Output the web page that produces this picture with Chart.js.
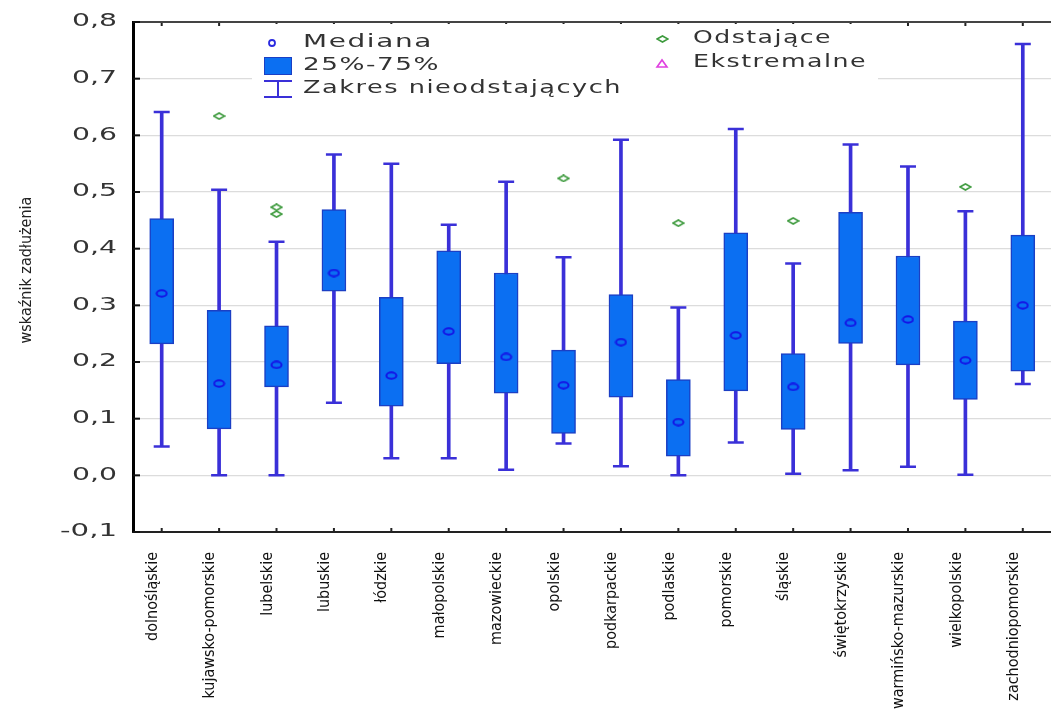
<!DOCTYPE html>
<html>
<head>
<meta charset="utf-8">
<script src="https://cdn.jsdelivr.net/npm/chart.js@4/dist/chart.umd.min.js"></script>
<style>
  html, body { margin: 0; padding: 0; background: #fff; overflow: hidden; }
  canvas { display: block; }
</style>
</head>
<body>
<canvas id="boxChart" width="1062" height="709"></canvas>
<script>
// województwa
const regions = ['dolnośląskie', 'kujawsko-pomorskie', 'lubelskie', 'lubuskie', 'łódzkie', 'małopolskie',
  'mazowieckie', 'opolskie', 'podkarpackie', 'podlaskie', 'pomorskie', 'śląskie', 'świętokrzyskie',
  'warmińsko-mazurskie', 'wielkopolskie', 'zachodniopomorskie'];

// values
const whiskerLow  = [0.051, 0.000, 0.000, 0.128, 0.030, 0.030, 0.010, 0.056, 0.016, 0.000, 0.058, 0.003, 0.009, 0.015, 0.001, 0.161];
const q1          = [0.232, 0.082, 0.156, 0.325, 0.122, 0.197, 0.145, 0.074, 0.138, 0.034, 0.149, 0.081, 0.233, 0.195, 0.134, 0.184];
const medians     = [0.321, 0.162, 0.195, 0.357, 0.176, 0.254, 0.209, 0.159, 0.235, 0.094, 0.247, 0.156, 0.269, 0.275, 0.203, 0.300];
const q3          = [0.453, 0.291, 0.264, 0.469, 0.314, 0.396, 0.357, 0.221, 0.319, 0.169, 0.428, 0.215, 0.464, 0.387, 0.272, 0.424];
const whiskerHigh = [0.641, 0.504, 0.412, 0.566, 0.550, 0.442, 0.518, 0.385, 0.592, 0.296, 0.611, 0.374, 0.584, 0.545, 0.466, 0.761];

const outlierRegions = ['kujawsko-pomorskie', 'lubelskie', 'lubelskie', 'opolskie', 'podlaskie', 'śląskie', 'wielkopolskie'];
const outlierValues  = [0.634, 0.473, 0.461, 0.524, 0.445, 0.449, 0.509];

const yTicks = [-0.1, 0.0, 0.1, 0.2, 0.3, 0.4, 0.5, 0.6, 0.7, 0.8];

const BOX_BLUE = '#0b6ff2';
const BOX_EDGE = '#1b3fc4';
const WHISK = '#3a30d8';
const NARROW = "'Liberation Sans Narrow', 'DejaVu Sans Condensed', 'Roboto', sans-serif";
const WIDE = "'DejaVu Sans', 'Liberation Sans', sans-serif";

// little point images
function makeEllipse() {
  const c = document.createElement('canvas');
  c.width = 13; c.height = 9;
  const g = c.getContext('2d');
  g.fillStyle = BOX_BLUE;
  g.strokeStyle = '#1414e6';
  g.lineWidth = 2;
  g.beginPath();
  g.ellipse(6.5, 4.5, 5, 3.2, 0, 0, Math.PI * 2);
  g.fill(); g.stroke();
  return c;
}
function makeDiamond() {
  const c = document.createElement('canvas');
  c.width = 13; c.height = 8;
  const g = c.getContext('2d');
  g.strokeStyle = '#3d9a3d';
  g.lineWidth = 1.6;
  g.beginPath();
  g.moveTo(1, 4); g.lineTo(6.5, 1); g.lineTo(12, 4); g.lineTo(6.5, 7); g.closePath();
  g.stroke();
  return c;
}
const ellipseImg = makeEllipse();
const diamondImg = makeDiamond();

function wideText(ctx, text, x, y, width, spacing) {
  ctx.save();
  ctx.letterSpacing = spacing + 'px';
  const w = ctx.measureText(text).width;
  ctx.translate(x, y);
  ctx.scale(width / w, 1);
  ctx.fillText(text, 0, 0);
  ctx.restore();
}

const decor = {
  id: 'decor',
  afterDraw(chart) {
    const ctx = chart.ctx;
    const area = chart.chartArea;
    const xs = chart.scales.x;
    const ys = chart.scales.y;
    ctx.save();

    // top frame line
    ctx.strokeStyle = '#444';
    ctx.lineWidth = 2;
    ctx.beginPath();
    ctx.moveTo(area.left, area.top);
    ctx.lineTo(area.right, area.top);
    ctx.stroke();

    // small tick dots top and bottom
    ctx.fillStyle = '#222';
    regions.forEach((r, i) => {
      const px = xs.getPixelForValue(i);
      ctx.fillRect(px - 1, area.top + 1, 2, 3);
      ctx.fillRect(px - 1, area.bottom - 4, 2, 3);
    });

    // inner ticks + y labels
    ctx.font = '17px ' + WIDE;
    ctx.textBaseline = 'middle';
    yTicks.forEach(v => {
      const py = ys.getPixelForValue(v);
      ctx.fillStyle = '#111';
      ctx.fillRect(area.left, py - 1, 7, 2);
      ctx.fillStyle = '#333';
      const label = v.toFixed(1).replace('.', ',');
      const w = v < 0 ? 57 : 45;
      wideText(ctx, label, 117 - w, py, w, 0);
    });

    // y title
    ctx.save();
    ctx.translate(27, 270);
    ctx.rotate(-Math.PI / 2);
    ctx.font = '16px ' + NARROW;
    ctx.fillStyle = '#222';
    ctx.textAlign = 'center';
    ctx.textBaseline = 'middle';
    ctx.fillText('wskaźnik zadłużenia', 0, 0);
    ctx.restore();

    // legend
    ctx.fillStyle = '#fff';
    ctx.fillRect(252, 24, 626, 76);
    ctx.font = '17px ' + WIDE;
    ctx.fillStyle = '#333';
    ctx.textBaseline = 'middle';
    wideText(ctx, 'Mediana', 303, 43, 130, 1);
    wideText(ctx, '25%-75%', 303, 66, 137, 1);
    wideText(ctx, 'Zakres nieodstających', 303, 89, 319, 1);
    wideText(ctx, 'Odstające', 693, 39, 139, 1);
    wideText(ctx, 'Ekstremalne', 693, 63, 174, 1);

    // legend symbols
    ctx.strokeStyle = '#2a2ae0';
    ctx.lineWidth = 1.8;
    ctx.beginPath();
    ctx.arc(272, 43, 3, 0, Math.PI * 2);
    ctx.stroke();

    ctx.fillStyle = BOX_BLUE;
    ctx.fillRect(264, 57, 28, 18);
    ctx.strokeStyle = BOX_EDGE;
    ctx.lineWidth = 1;
    ctx.strokeRect(264.5, 57.5, 27, 17);

    ctx.strokeStyle = WHISK;
    ctx.lineWidth = 2;
    ctx.beginPath();
    ctx.moveTo(264, 81); ctx.lineTo(292, 81);
    ctx.moveTo(278, 81); ctx.lineTo(278, 97);
    ctx.moveTo(264, 97); ctx.lineTo(292, 97);
    ctx.stroke();

    ctx.drawImage(diamondImg, 656, 35);

    ctx.strokeStyle = '#e040e0';
    ctx.lineWidth = 1.6;
    ctx.beginPath();
    ctx.moveTo(657, 67); ctx.lineTo(662, 60); ctx.lineTo(667, 67); ctx.closePath();
    ctx.stroke();

    ctx.restore();
  }
};

const ctx = document.getElementById('boxChart').getContext('2d');

new Chart(ctx, {
  type: 'bar',
  data: {
    labels: regions,
    datasets: [
      {
        label: 'Odstające',
        type: 'line',
        showLine: false,
        data: outlierRegions.map((r, i) => ({ x: r, y: outlierValues[i] })),
        pointStyle: diamondImg,
        order: 0
      },
      {
        label: 'Mediana',
        type: 'line',
        showLine: false,
        data: medians,
        pointStyle: ellipseImg,
        order: 0
      },
      {
        label: 'capHigh',
        type: 'line',
        showLine: false,
        data: whiskerHigh,
        pointStyle: 'line',
        pointRadius: 8,
        borderColor: WHISK,
        pointBorderWidth: 2.5,
        order: 1
      },
      {
        label: 'capLow',
        type: 'line',
        showLine: false,
        data: whiskerLow,
        pointStyle: 'line',
        pointRadius: 8,
        borderColor: WHISK,
        pointBorderWidth: 2.5,
        order: 1
      },
      {
        label: '25%-75%',
        data: regions.map((r, i) => [q1[i], q3[i]]),
        backgroundColor: BOX_BLUE,
        borderColor: BOX_EDGE,
        borderWidth: 1.5,
        borderSkipped: false,
        barThickness: 24,
        grouped: false,
        order: 2
      },
      {
        label: 'Zakres nieodstających',
        data: regions.map((r, i) => [whiskerLow[i], whiskerHigh[i]]),
        backgroundColor: WHISK,
        barThickness: 3,
        grouped: false,
        order: 3
      }
    ]
  },
  options: {
    responsive: false,
    animation: false,
    layout: { padding: { left: 0, top: 22, right: 0, bottom: 0 } },
    plugins: {
      legend: { display: false },
      tooltip: { enabled: false }
    },
    scales: {
      x: {
        offset: true,
        grid: { display: false },
        border: { display: true, color: '#222', width: 2 },
        ticks: {
          autoSkip: false,
          maxRotation: 90,
          minRotation: 90,
          padding: 12,
          labelOffset: -9,
          color: '#111',
          font: { family: NARROW, size: 16 }
        },
        afterFit: s => { s.height = 177; }
      },
      y: {
        min: -0.1,
        max: 0.8,
        ticks: { stepSize: 0.1, display: false },
        grid: { color: '#dcdcdc', lineWidth: 1.2, drawTicks: false },
        border: { display: true, color: '#000', width: 3 },
        afterFit: s => { s.width = 133; }
      }
    }
  },
  plugins: [decor]
});
</script>
</body>
</html>
